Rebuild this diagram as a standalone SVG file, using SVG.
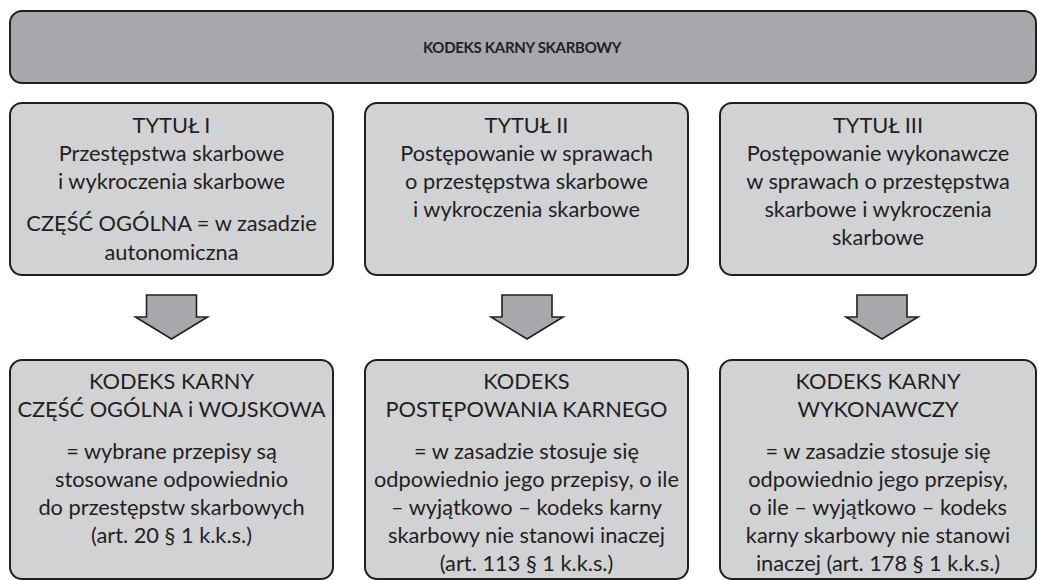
<svg xmlns="http://www.w3.org/2000/svg" width="1038" height="580" viewBox="0 0 1038 580">
<style>
.hdr{fill:#a7a8ab;stroke:#231f20;stroke-width:2}
.box{fill:#d1d2d4;stroke:#231f20;stroke-width:2}
.arr{fill:#a7a8ab;stroke:#231f20;stroke-width:1.6;stroke-linejoin:miter}
text{font-family:Lato,"Open Sans","Liberation Sans",sans-serif;font-size:21.8px;fill:#231f20;text-anchor:middle}
.b{font-weight:bold;font-size:15px;letter-spacing:-0.3px}
</style>
<rect width="1038" height="580" fill="#ffffff"/>
<g id="header">
<rect class="hdr" x="10" y="11" width="1026" height="72" rx="12"/>
<text class="b" x="522" y="53">KODEKS KARNY SKARBOWY</text>
</g>
<g id="tytul1">
<rect class="box" x="10" y="103" width="323" height="172" rx="12"/>
<text x="171.5" y="133">TYTUŁ I</text>
<text x="171.5" y="161">Przestępstwa skarbowe</text>
<text x="171.5" y="189">i wykroczenia skarbowe</text>
<text x="171.5" y="231">CZĘŚĆ OGÓLNA = w zasadzie</text>
<text x="171.5" y="260">autonomiczna</text>
</g>
<g id="tytul2">
<rect class="box" x="365" y="103" width="323" height="172" rx="12"/>
<text x="526.5" y="133">TYTUŁ II</text>
<text x="526.5" y="161">Postępowanie w sprawach</text>
<text x="526.5" y="189">o przestępstwa skarbowe</text>
<text x="526.5" y="217">i wykroczenia skarbowe</text>
</g>
<g id="tytul3">
<rect class="box" x="720" y="103" width="316" height="172" rx="12"/>
<text x="878" y="133">TYTUŁ III</text>
<text x="878" y="161">Postępowanie wykonawcze</text>
<text x="878" y="189">w sprawach o przestępstwa</text>
<text x="878" y="217">skarbowe i wykroczenia</text>
<text x="878" y="245">skarbowe</text>
</g>
<g id="connectors">
<polygon class="arr" points="146.5,295 196.5,295 196.5,317 207.5,317 171.5,339 135.5,317 146.5,317"/>
<polygon class="arr" points="502,295 552,295 552,317 563,317 527,339 491,317 502,317"/>
<polygon class="arr" points="857,295 907,295 907,317 918,317 882,339 846,317 857,317"/>
</g>
<g id="kk">
<rect class="box" x="10" y="360" width="323" height="219" rx="12"/>
<text x="171.5" y="389">KODEKS KARNY</text>
<text x="171.5" y="417">CZĘŚĆ OGÓLNA i WOJSKOWA</text>
<text x="171.5" y="459">= wybrane przepisy są</text>
<text x="171.5" y="487">stosowane odpowiednio</text>
<text x="171.5" y="515">do przestępstw skarbowych</text>
<text x="171.5" y="543">(art. 20 § 1 k.k.s.)</text>
</g>
<g id="kpk">
<rect class="box" x="365" y="360" width="323" height="219" rx="12"/>
<text x="526.5" y="389">KODEKS</text>
<text x="526.5" y="417">POSTĘPOWANIA KARNEGO</text>
<text x="526.5" y="459">= w zasadzie stosuje się</text>
<text x="526.5" y="487">odpowiednio jego przepisy, o ile</text>
<text x="526.5" y="515">– wyjątkowo – kodeks karny</text>
<text x="526.5" y="543">skarbowy nie stanowi inaczej</text>
<text x="526.5" y="571">(art. 113 § 1 k.k.s.)</text>
</g>
<g id="kkw">
<rect class="box" x="720" y="360" width="316" height="219" rx="12"/>
<text x="878" y="389">KODEKS KARNY</text>
<text x="878" y="417">WYKONAWCZY</text>
<text x="878" y="459">= w zasadzie stosuje się</text>
<text x="878" y="487">odpowiednio jego przepisy,</text>
<text x="878" y="515">o ile – wyjątkowo – kodeks</text>
<text x="878" y="543">karny skarbowy nie stanowi</text>
<text x="878" y="571">inaczej (art. 178 § 1 k.k.s.)</text>
</g>
</svg>
